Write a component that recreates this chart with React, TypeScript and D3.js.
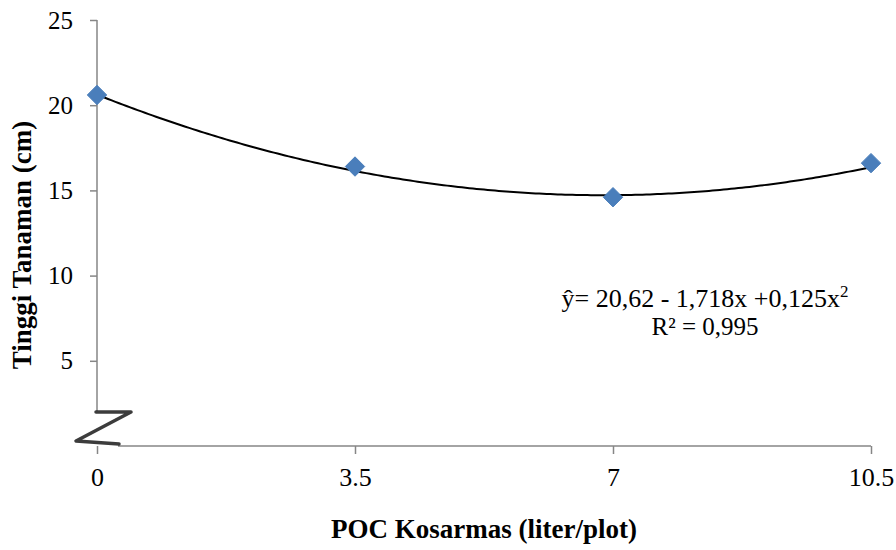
import React, { useEffect, useRef } from "react";
import * as d3 from "d3";

// data
const doses = [0, 3.5, 7, 10.5];
const heights = [20.6, 16.4, 14.6, 16.6];
const xTicks = [0, 3.5, 7, 10.5];
const xTickLabels = ["0", "3.5", "7", "10.5"];
const yTicks = [5, 10, 15, 20, 25];
// quadratic trend y = a + b x + c x^2, coefficients as printed on the chart
const trendCoef = [20.62, -1.718, 0.125];
const equationText = "\u0177= 20,62 - 1,718x +0,125x";
const r2Text = "R\u00b2 = 0,995";

const W = 896, H = 550;
const font = "'Liberation Serif', 'Times New Roman', serif";
const axisColor = "#868686";

export default function App() {
  const ref = useRef<SVGSVGElement>(null);

  useEffect(() => {
    const svg = d3.select(ref.current);
    svg.selectAll("*").remove();

    const x = d3.scaleLinear().domain([0, 10.5]).range([97, 871]);
    const y = d3.scaleLinear().domain([0, 25]).range([446, 20]);

    // y axis (broken at the bottom)
    const yAxis = d3.axisLeft(y).tickValues(yTicks).tickSize(7).tickPadding(17);
    const gy = svg.append("g").attr("transform", `translate(${x(0)},0)`).call(yAxis);
    gy.select(".domain").remove();
    gy.selectAll(".tick line").attr("stroke", axisColor).attr("stroke-width", 1.5);
    gy.selectAll(".tick text")
      .attr("fill", "#000")
      .style("font-family", font)
      .style("font-size", "25px");
    svg.append("line")
      .attr("x1", x(0)).attr("x2", x(0))
      .attr("y1", y(25)).attr("y2", 411)
      .attr("stroke", axisColor).attr("stroke-width", 1.5);

    // x axis
    const xAxis = d3.axisBottom(x).tickValues(xTicks).tickSize(8).tickPadding(14)
      .tickFormat((d, i) => xTickLabels[i]);
    const gx = svg.append("g").attr("transform", `translate(0,${y(0)})`).call(xAxis);
    gx.select(".domain").remove();
    gx.selectAll(".tick line").attr("stroke", axisColor).attr("stroke-width", 1.5);
    gx.selectAll(".tick text")
      .attr("fill", "#000")
      .style("font-family", font)
      .style("font-size", "26px");
    svg.append("line")
      .attr("x1", 118).attr("x2", x(10.5))
      .attr("y1", y(0)).attr("y2", y(0))
      .attr("stroke", axisColor).attr("stroke-width", 1.5);

    // axis break mark
    svg.append("path")
      .attr("d", "M96,412 L131,412 L76,441 L119,444")
      .attr("fill", "none")
      .attr("stroke", "#1a1a1a")
      .attr("stroke-width", 3.5)
      .attr("stroke-linejoin", "round")
      .attr("stroke-linecap", "round")
      .attr("opacity", 0.85);

    // trend curve
    const xs = d3.range(0, 10.5 + 1e-9, 0.05);
    const line = d3.line<number>()
      .x(d => x(d))
      .y(d => y(trendCoef[0] + trendCoef[1] * d + trendCoef[2] * d * d));
    svg.append("path")
      .datum(xs)
      .attr("d", line)
      .attr("fill", "none")
      .attr("stroke", "#000")
      .attr("stroke-width", 2);

    // markers
    const sym = d3.symbol().type(d3.symbolDiamond2).size(240);
    svg.selectAll("path.pt")
      .data(doses)
      .enter().append("path")
      .attr("class", "pt")
      .attr("d", sym)
      .attr("transform", (d, i) => `translate(${x(d)},${y(heights[i])})`)
      .attr("fill", "#4a7ebb")
      .attr("stroke", "#4a7ebb")
      .attr("stroke-width", 1);

    // equation
    const eq = svg.append("text")
      .attr("x", 705).attr("y", 307)
      .attr("text-anchor", "middle")
      .style("font-family", font)
      .style("font-size", "26px")
      .text(equationText);
    eq.append("tspan").attr("dy", -10).style("font-size", "17px").text("2");
    svg.append("text")
      .attr("x", 705).attr("y", 335)
      .attr("text-anchor", "middle")
      .style("font-family", font)
      .style("font-size", "25px")
      .text(r2Text);

    // axis titles
    svg.append("text")
      .attr("x", 484).attr("y", 538)
      .attr("text-anchor", "middle")
      .style("font-family", font)
      .style("font-size", "27px")
      .style("font-weight", "bold")
      .text("POC Kosarmas (liter/plot)");
    svg.append("text")
      .attr("transform", "translate(31,245) rotate(-90)")
      .attr("text-anchor", "middle")
      .style("font-family", font)
      .style("font-size", "27px")
      .style("font-weight", "bold")
      .text("Tinggi Tanaman (cm)");
  }, []);

  return (
    <svg ref={ref} width={W} height={H}
      style={{ position: "absolute", left: 0, top: 0, background: "#fff" }} />
  );
}
